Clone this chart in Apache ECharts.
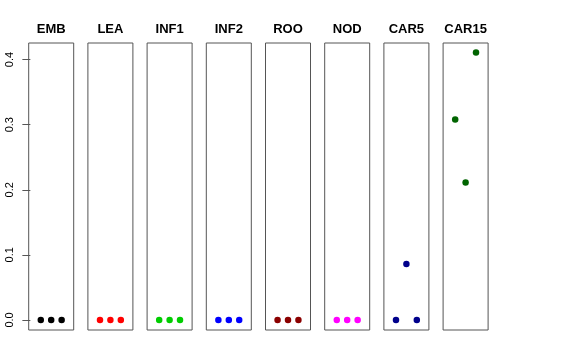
<!DOCTYPE html>
<html><head><meta charset="utf-8">
<script src="https://cdn.jsdelivr.net/npm/echarts@6/dist/echarts.min.js"></script>
<style>html,body{margin:0;padding:0;background:#fff}#c{width:576px;height:360px}</style>
</head><body><div id="c"></div>
<script>
const panels = ["EMB","LEA","INF1","INF2","ROO","NOD","CAR5","CAR15"];
const colors = ["#000000","#FF0000","#00CD00","#0000FF","#8B0000","#FF00FF","#00008B","#006400"];
const xIndex = [1,2,3];
const EMB = [0,0,0];
const LEA = [0,0,0];
const INF1 = [0,0,0];
const INF2 = [0,0,0];
const ROO = [0,0,0];
const NOD = [0,0,0];
const CAR5 = [0,0.086,0];
const CAR15 = [0.308,0.211,0.411];
const yTicks = [0,0.1,0.2,0.3,0.4];
const values = [EMB,LEA,INF1,INF2,ROO,NOD,CAR5,CAR15];

const grid=[],xAxis=[],yAxis=[],series=[],graphic=[];
panels.forEach((p,i)=>{
  const left = 28.7 + i*59.2;
  grid.push({left:left,top:43,width:45,height:287,show:true,borderColor:'#555',borderWidth:1,backgroundColor:'transparent'});
  xAxis.push({gridIndex:i,type:'value',min:-0.16,max:4.16,show:false});
  yAxis.push({gridIndex:i,type:'value',min:-0.0155,max:0.4255,show:i===0,
    splitLine:{show:false},axisLine:{show:false},
    axisTick:{show:i===0,length:8,lineStyle:{color:'#555',width:1},customValues:yTicks},
    axisLabel:{show:i===0,rotate:90,margin:13,fontSize:11,color:'#000',fontFamily:'Liberation Sans',
      customValues:yTicks,formatter:v=>v.toFixed(1)}});
  series.push({type:'scatter',xAxisIndex:i,yAxisIndex:i,symbolSize:6.5,itemStyle:{color:colors[i],opacity:1},
    data:xIndex.map((x,k)=>[x,values[i][k]]),silent:true});
  graphic.push({type:'text',x:left+22.5,y:29.5,style:{text:p,textAlign:'center',textVerticalAlign:'middle',
    font:'bold 13px "Liberation Sans"',fill:'#000'}});
});
const chart = echarts.init(document.getElementById('c'),null,{renderer:'canvas'});
chart.setOption({animation:false,grid,xAxis,yAxis,series,graphic});
</script></body></html>
